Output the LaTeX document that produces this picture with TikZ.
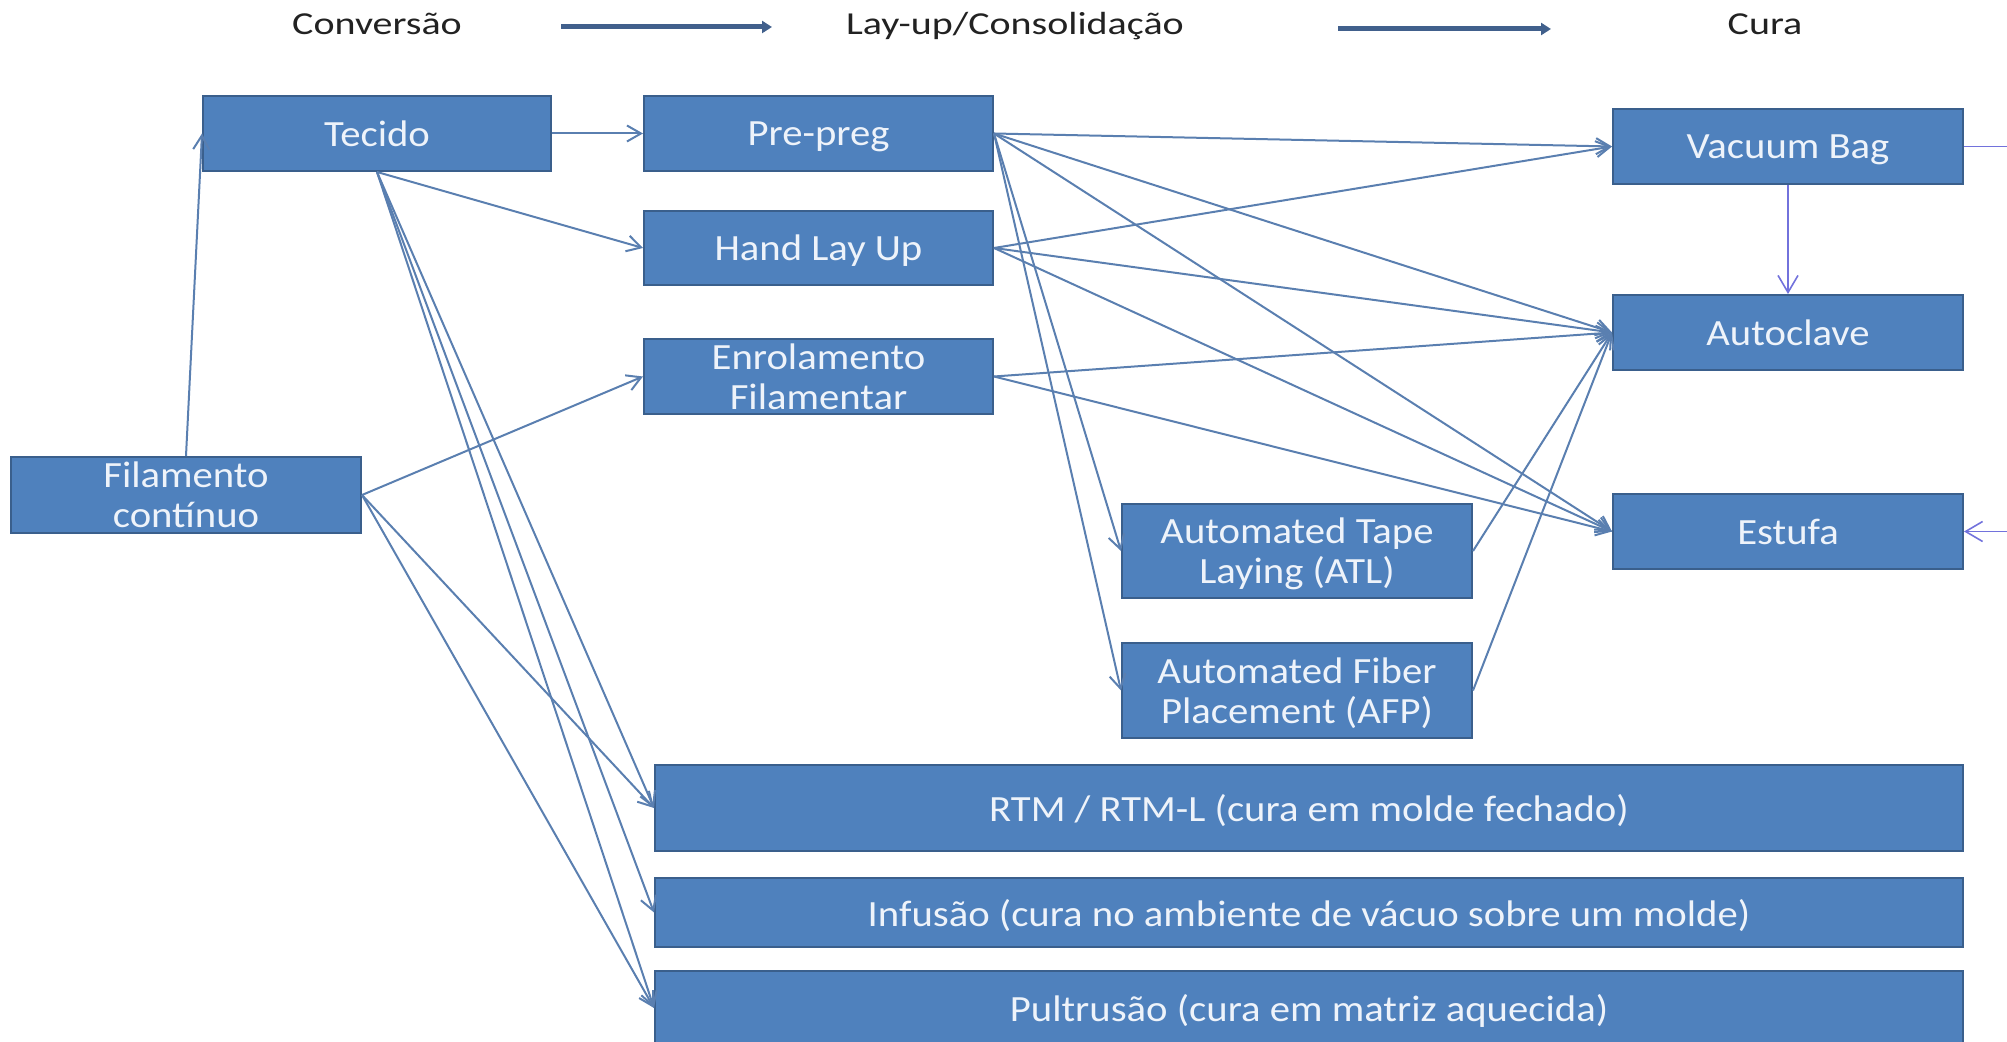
\documentclass[tikz,border=0pt]{standalone}
\usepackage{fontspec}
\setmainfont{Carlito}
\newfontfamily\boxfont{Carlito}[FakeStretch=1.1]
\newfontfamily\headfont{Carlito}[FakeStretch=1.25]
\usetikzlibrary{arrows.meta}
\definecolor{boxfill}{HTML}{4F81BD}
\definecolor{boxline}{HTML}{3A5F8C}
\definecolor{conncol}{HTML}{5A7FB0}
\definecolor{purp}{HTML}{7272DC}
\definecolor{headarr}{HTML}{41608C}
\definecolor{boxtext}{HTML}{EEF3FA}
\definecolor{headtext}{HTML}{222222}
\begin{document}
\begin{tikzpicture}[x=0.5pt,y=-0.5pt,
  box/.style={draw=boxline, line width=1pt, fill=boxfill, text=boxtext,
    font=\boxfont\fontsize{18.5}{20}\selectfont, align=center, inner sep=0pt,
    text depth=0pt},
  wh/.style 2 args={minimum width=#1*0.5pt, minimum height=#2*0.5pt},
  link/.style={draw=conncol, line width=1pt, -{Straight Barb[length=7pt,width=8pt]}},
  plink/.style={draw=purp, line width=0.8pt},
  ptip/.style={-{Straight Barb[length=8.5pt,width=10pt]}},
  head/.style={text=headtext, font=\headfont\fontsize{16}{19}\selectfont, anchor=base},
  harr/.style={draw=headarr, line width=2.5pt, -{Triangle[length=5pt,width=6pt]}}
]
\useasboundingbox (0,0) rectangle (2007,1042);

% headers
\node[head] (h1) at (377,35) {Conversão};
\node[head] (h2) at (1015,35) {Lay-up/Consolidação};
\node[head] (h3) at (1765,35) {Cura};
\coordinate (a1s) at (561,27);
\coordinate (a1e) at (772,27);
\coordinate (a2s) at (1338,29);
\coordinate (a2e) at (1551,29);
\draw[harr] (a1s) -- (a1e);
\draw[harr] (a2s) -- (a2e);

% boxes
\node[box, wh={348}{75}] (tec) at (377,133.5) {Tecido};
\node[box, wh={349}{75}] (pp) at (818.5,133.5) {Pre-preg};
\node[box, wh={349}{74}] (hlu) at (818.5,248) {Hand Lay Up};
\node[box, wh={349}{75}] (enr) at (818.5,376.5) {Enrolamento\\Filamentar};
\node[box, wh={350}{76}] (fil) at (186,495) {Filamento\\contínuo};
\node[box, wh={350}{75}] (vb) at (1788,146.5) {Vacuum Bag};
\node[box, wh={350}{75}] (ac) at (1788,332.5) {Autoclave};
\node[box, wh={350}{75}] (es) at (1788,531.5) {Estufa};
\node[box, wh={350}{94}] (atl) at (1297,551) {Automated Tape\\Laying (ATL)};
\node[box, wh={350}{95}] (afp) at (1297,690.5) {Automated Fiber\\Placement (AFP)};
\node[box, wh={1308}{86}] (rtm) at (1309,808) {RTM / RTM-L (cura em molde fechado)};
\node[box, wh={1308}{69}] (inf) at (1309,912.5) {Infusão (cura no ambiente de vácuo sobre um molde)};
\node[box, wh={1308}{74}] (pul) at (1309,1008) {Pultrusão (cura em matriz aquecida)};

% connectors
\draw[link] (fil.north) -- (tec.west);
\draw[link] (tec.east) -- (pp.west);
\draw[link] (tec.south) -- (hlu.west);
\draw[link] (tec.south) -- (rtm.west);
\draw[link] (tec.south) -- (inf.west);
\draw[link] (tec.south) -- (pul.west);
\draw[link] (fil.east) -- (enr.west);
\draw[link] (fil.east) -- (rtm.west);
\draw[link] (fil.east) -- (pul.west);

\draw[link] (pp.east) -- (vb.west);
\draw[link] (pp.east) -- (ac.west);
\draw[link] (pp.east) -- (es.west);
\draw[link] (pp.east) -- (atl.west);
\draw[link] (pp.east) -- (afp.west);
\draw[link] (hlu.east) -- (vb.west);
\draw[link] (hlu.east) -- (ac.west);
\draw[link] (hlu.east) -- (es.west);
\draw[link] (enr.east) -- (ac.west);
\draw[link] (enr.east) -- (es.west);
\draw[link] (atl.east) -- (ac.west);
\draw[link] (afp.east) -- (ac.west);

% purple lines
\coordinate (vbout) at (2012,146.5);
\coordinate (esin) at (2012,531.5);
\draw[plink, ptip] (vb.south) -- (ac.north);
\draw[plink] (vb.east) -- (vbout);
\draw[plink, ptip] (esin) -- (es.east);
\end{tikzpicture}
\end{document}
